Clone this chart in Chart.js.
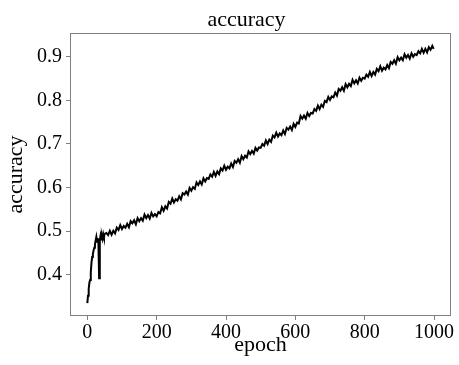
<!DOCTYPE html>
<html>
<head>
<meta charset="utf-8">
<script src="https://cdn.jsdelivr.net/npm/chart.js@4"></script>
<style>
  html, body { margin: 0; padding: 0; background: #fff; }
  #wrap { width: 459px; height: 365px; }
</style>
</head>
<body>
<div id="wrap"><canvas id="accChart" width="459" height="365"></canvas></div>
<script>
// epoch / accuracy values
const epochs = [
  0, 2, 4, 6, 8, 10, 12, 14, 16, 18, 20, 22, 24, 26, 28, 30, 32, 34, 36, 38, 40, 42, 44, 46, 48, 50,
  55, 60, 65, 70, 75, 80, 85, 90, 95, 100,
  105, 110, 115, 120, 125, 130, 135, 140, 145, 150,
  155, 160, 165, 170, 175, 180, 185, 190, 195, 200,
  205, 210, 215, 220, 225, 230, 235, 240, 245, 250,
  255, 260, 265, 270, 275, 280, 285, 290, 295, 300,
  305, 310, 315, 320, 325, 330, 335, 340, 345, 350,
  355, 360, 365, 370, 375, 380, 385, 390, 395, 400,
  405, 410, 415, 420, 425, 430, 435, 440, 445, 450,
  455, 460, 465, 470, 475, 480, 485, 490, 495, 500,
  505, 510, 515, 520, 525, 530, 535, 540, 545, 550,
  555, 560, 565, 570, 575, 580, 585, 590, 595, 600,
  605, 610, 615, 620, 625, 630, 635, 640, 645, 650,
  655, 660, 665, 670, 675, 680, 685, 690, 695, 700,
  705, 710, 715, 720, 725, 730, 735, 740, 745, 750,
  755, 760, 765, 770, 775, 780, 785, 790, 795, 800,
  805, 810, 815, 820, 825, 830, 835, 840, 845, 850,
  855, 860, 865, 870, 875, 880, 885, 890, 895, 900,
  905, 910, 915, 920, 925, 930, 935, 940, 945, 950,
  955, 960, 965, 970, 975, 980, 985, 990, 995, 999
];

const accuracy = [
  0.335, 0.352, 0.368, 0.382, 0.388, 0.405, 0.428, 0.441, 0.447, 0.456, 0.462, 0.470, 0.479,
  0.487, 0.476, 0.484, 0.474, 0.392, 0.479, 0.489, 0.481, 0.490, 0.483, 0.493, 0.486, 0.494,
  0.496, 0.491, 0.501, 0.492, 0.501, 0.495, 0.508, 0.503, 0.514, 0.505,
  0.512, 0.508, 0.517, 0.509, 0.523, 0.518, 0.525, 0.516, 0.530, 0.523,
  0.530, 0.524, 0.538, 0.530, 0.537, 0.529, 0.542, 0.534, 0.539, 0.534,
  0.544, 0.541, 0.555, 0.547, 0.557, 0.552, 0.567, 0.563, 0.575, 0.566,
  0.573, 0.570, 0.580, 0.573, 0.587, 0.584, 0.591, 0.584, 0.599, 0.593,
  0.601, 0.597, 0.612, 0.606, 0.614, 0.607, 0.621, 0.614, 0.622, 0.620,
  0.630, 0.625, 0.636, 0.627, 0.637, 0.631, 0.644, 0.639, 0.650, 0.641,
  0.648, 0.644, 0.655, 0.647, 0.661, 0.657, 0.665, 0.657, 0.672, 0.665,
  0.673, 0.669, 0.683, 0.677, 0.684, 0.678, 0.691, 0.685, 0.692, 0.691,
  0.700, 0.696, 0.708, 0.700, 0.710, 0.705, 0.719, 0.715, 0.726, 0.717,
  0.724, 0.720, 0.731, 0.723, 0.737, 0.733, 0.740, 0.732, 0.746, 0.739,
  0.749, 0.747, 0.764, 0.758, 0.765, 0.758, 0.771, 0.764, 0.771, 0.770,
  0.780, 0.776, 0.788, 0.780, 0.790, 0.785, 0.799, 0.796, 0.808, 0.801,
  0.809, 0.807, 0.818, 0.811, 0.826, 0.822, 0.830, 0.822, 0.837, 0.830,
  0.838, 0.833, 0.847, 0.839, 0.846, 0.839, 0.852, 0.845, 0.852, 0.850,
  0.859, 0.854, 0.865, 0.856, 0.865, 0.859, 0.872, 0.867, 0.878, 0.868,
  0.875, 0.871, 0.881, 0.874, 0.888, 0.884, 0.892, 0.884, 0.899, 0.892,
  0.898, 0.892, 0.906, 0.898, 0.904, 0.896, 0.908, 0.900, 0.906, 0.904,
  0.913, 0.908, 0.918, 0.909, 0.918, 0.910, 0.922, 0.916, 0.925, 0.918
];

const xTicks = [0, 200, 400, 600, 800, 1000];
const yTicks = [0.4, 0.5, 0.6, 0.7, 0.8, 0.9];

const serif = '"Liberation Serif", "Times New Roman", serif';
const spineColor = '#808080';

// frame on all four sides of the plot area, like matplotlib spines
const frameBox = {
    id: 'frameBox',
    afterDatasetsDraw(chart) {
        const a = chart.chartArea;
        const ctx = chart.ctx;
        ctx.save();
        ctx.strokeStyle = spineColor;
        ctx.lineWidth = 1;
        ctx.strokeRect(Math.round(a.left) + 0.5, Math.round(a.top) + 0.5,
            Math.round(a.right - a.left) - 1, Math.round(a.bottom - a.top) - 1);
        ctx.restore();
    }
};

const ctx = document.getElementById('accChart').getContext('2d');
new Chart(ctx, {
    type: 'line',
    data: {
        datasets: [{
            label: 'accuracy',
            data: epochs.map((e, i) => ({ x: e, y: accuracy[i] })),
            borderColor: '#000',
            borderWidth: 2,
            pointRadius: 0,
            tension: 0,
            fill: false
        }]
    },
    options: {
        responsive: false,
        animation: false,
        layout: { padding: { left: 34, right: 0, top: 0, bottom: 0 } },
        plugins: {
            legend: { display: false },
            tooltip: { enabled: false },
            title: {
                display: true,
                text: 'accuracy',
                color: '#000',
                font: { family: serif, size: 22, weight: 'normal' },
                padding: { top: 7.5, bottom: -0.9 }
            }
        },
        scales: {
            x: {
                type: 'linear',
                min: -49.95,
                max: 1048.95,
                afterBuildTicks: axis => { axis.ticks = xTicks.map(v => ({ value: v })); },
                afterFit: axis => { axis.height = 49; },
                ticks: {
                    color: '#000',
                    font: { family: serif, size: 20 },
                    padding: 1,
                    maxRotation: 0,
                    autoSkip: false,
                    callback: v => String(v)
                },
                grid: { drawOnChartArea: false, drawTicks: true, tickLength: 4, color: spineColor },
                border: { display: false },
                title: {
                    display: true,
                    text: 'epoch',
                    color: '#000',
                    font: { family: serif, size: 22 },
                    padding: { top: 0, bottom: 6.3 }
                }
            },
            y: {
                type: 'linear',
                min: 0.3055,
                max: 0.9545,
                afterBuildTicks: axis => { axis.ticks = yTicks.map(v => ({ value: v })); },
                afterFit: axis => { axis.width = 36; },
                ticks: {
                    color: '#000',
                    font: { family: serif, size: 20 },
                    padding: 4,
                    autoSkip: false,
                    callback: v => v.toFixed(1)
                },
                grid: { drawOnChartArea: false, drawTicks: true, tickLength: 4, color: spineColor },
                border: { display: false },
                title: {
                    display: true,
                    text: 'accuracy',
                    color: '#000',
                    font: { family: serif, size: 22 },
                    padding: { top: -31.2, bottom: 0 }
                }
            },
            // empty right-hand axis that only reserves the right margin
            yRight: {
                type: 'linear',
                position: 'right',
                min: 0,
                max: 1,
                afterFit: axis => { axis.width = 8; },
                ticks: { display: false },
                grid: { display: false, drawTicks: false },
                border: { display: false }
            }
        }
    },
    plugins: [frameBox]
});
</script>
</body>
</html>
